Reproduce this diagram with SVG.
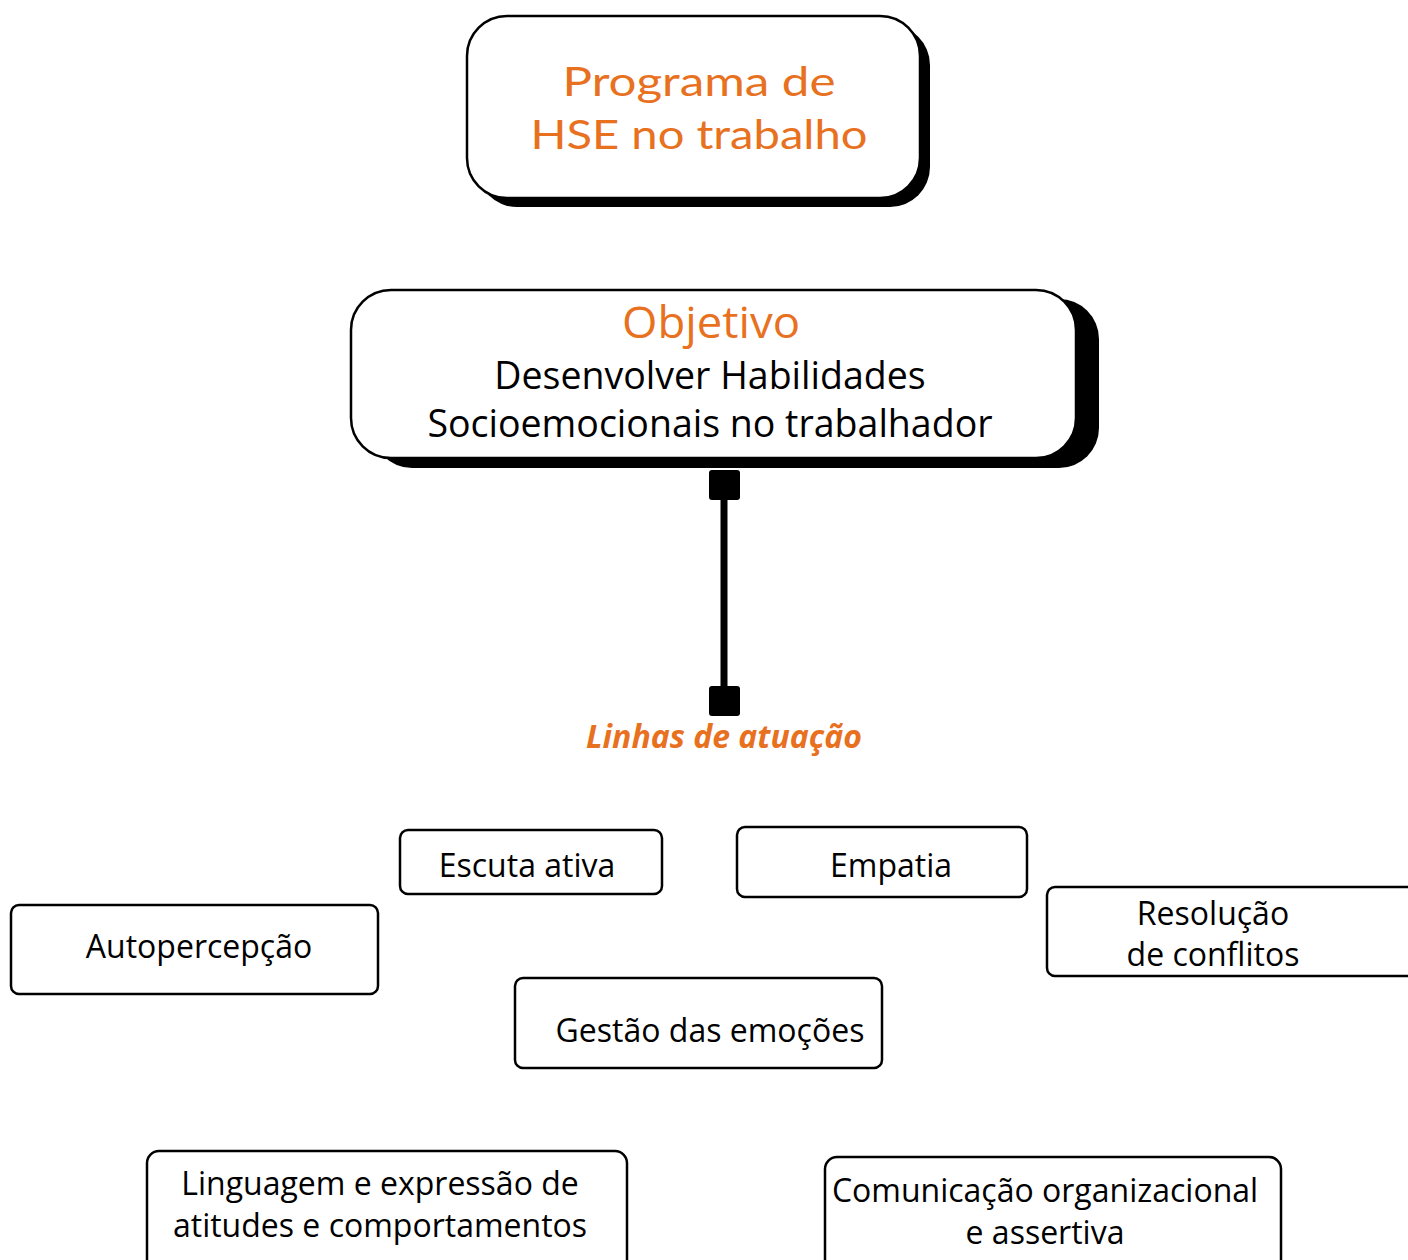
<svg xmlns="http://www.w3.org/2000/svg" width="1408" height="1260" viewBox="0 0 1408 1260">
<style>
.box{fill:#fff;stroke:#000;stroke-width:2.5}
.shadow{fill:#000}
.t{font-family:"Open Sans","Liberation Sans",sans-serif;fill:#000;text-anchor:middle}
.o{fill:#E8711F}
.title{font-family:Lato,"Open Sans",sans-serif;font-weight:400;fill:#E8711F;text-anchor:middle}
</style>
<rect width="1408" height="1260" fill="#fff"/>
<g id="node-programa">
<rect class="shadow" x="477" y="25" width="453" height="182" rx="40"/>
<rect class="box" x="467" y="16" width="453" height="182" rx="40"/>
<text class="title" x="699" y="96" font-size="40" textLength="273" lengthAdjust="spacingAndGlyphs">Programa de</text>
<text class="title" x="699" y="149" font-size="40" textLength="337" lengthAdjust="spacingAndGlyphs">HSE no trabalho</text>
</g>
<g id="node-objetivo">
<rect class="shadow" x="372" y="299" width="727" height="169" rx="40"/>
<rect class="box" x="351" y="290" width="725" height="168" rx="40"/>
<text class="t o" x="711" y="338" font-size="44" textLength="178" lengthAdjust="spacingAndGlyphs">Objetivo</text>
<text class="t" x="710" y="389" font-size="37.5">Desenvolver Habilidades</text>
<text class="t" x="710" y="437" font-size="37.5">Socioemocionais no trabalhador</text>
</g>
<g id="connectors">
<line x1="724" y1="495" x2="724" y2="692" stroke="#000" stroke-width="7"/>
<rect x="709" y="470" width="31" height="30" rx="3" fill="#000"/>
<rect x="709" y="686" width="31" height="30" rx="3" fill="#000"/>
</g>
<g id="label-linhas">
<text class="t o" x="724" y="748" font-size="32" font-style="italic" font-weight="bold">Linhas de atuação</text>
</g>
<g id="node-escuta">
<rect class="box" x="400" y="830" width="262" height="64" rx="8"/>
<text class="t" x="527" y="877" font-size="32">Escuta ativa</text>
</g>
<g id="node-empatia">
<rect class="box" x="737" y="827" width="290" height="70" rx="8"/>
<text class="t" x="891" y="877" font-size="32">Empatia</text>
</g>
<g id="node-resolucao">
<rect class="box" x="1047" y="887" width="380" height="89" rx="8"/>
<text class="t" x="1213" y="925" font-size="32">Resolução</text>
<text class="t" x="1213" y="966" font-size="32">de conflitos</text>
</g>
<g id="node-autopercepcao">
<rect class="box" x="11" y="905" width="367" height="89" rx="8"/>
<text class="t" x="199" y="958" font-size="32">Autopercepção</text>
</g>
<g id="node-gestao">
<rect class="box" x="515" y="978" width="367" height="90" rx="8"/>
<text class="t" x="710" y="1042" font-size="32">Gestão das emoções</text>
</g>
<g id="node-linguagem">
<rect class="box" x="147" y="1151" width="480" height="130" rx="12" stroke-width="3"/>
<text class="t" x="380" y="1195" font-size="32">Linguagem e expressão de</text>
<text class="t" x="380" y="1237" font-size="32">atitudes e comportamentos</text>
</g>
<g id="node-comunicacao">
<rect class="box" x="825" y="1157" width="456" height="130" rx="12" stroke-width="3"/>
<text class="t" x="1045" y="1202" font-size="32">Comunicação organizacional</text>
<text class="t" x="1045" y="1244" font-size="32">e assertiva</text>
</g>
</svg>
